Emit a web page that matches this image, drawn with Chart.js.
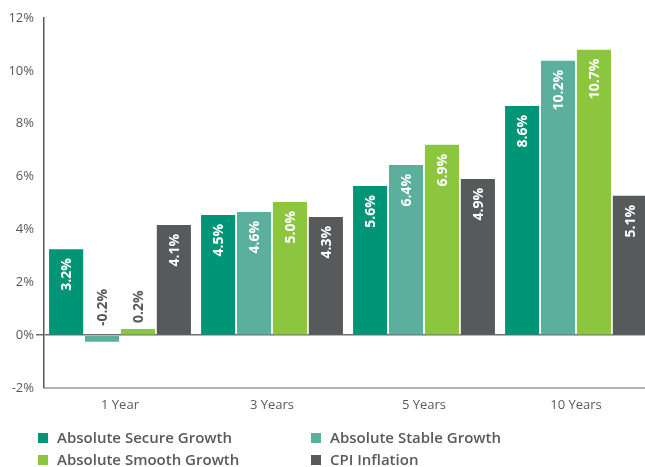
<!DOCTYPE html>
<html>
<head>
<meta charset="utf-8">
<script src="https://cdn.jsdelivr.net/npm/chart.js@4/dist/chart.umd.min.js"></script>
<style>
html,body{margin:0;padding:0;background:#fff;overflow:hidden;}
#wrap{position:relative;width:645px;height:467px;overflow:hidden;}
#c{position:absolute;left:0;top:0;}
.lg{position:absolute;font-family:"Open Sans",sans-serif;font-weight:600;font-size:15px;color:#58595b;line-height:18px;white-space:nowrap;}
.lg i{display:inline-block;width:10px;height:10px;margin-right:9px;vertical-align:0px;}
</style>
</head>
<body>
<div id="wrap">
<canvas id="c" width="652" height="467"></canvas>
<div id="legend"></div>
</div>
<script>
const categories = ['1 Year', '3 Years', '5 Years', '10 Years'];
const seriesNames = ['Absolute Secure Growth', 'Absolute Stable Growth', 'Absolute Smooth Growth', 'CPI Inflation'];
const secureValues = [3.25, 4.55, 5.64, 8.67];
const stableValues = [-0.25, 4.66, 6.44, 10.38];
const smoothValues = [0.23, 5.04, 7.2, 10.8];
const cpiValues = [4.17, 4.47, 5.91, 5.27];
const secureLabels = ['3.2%', '4.5%', '5.6%', '8.6%'];
const stableLabels = ['-0.2%', '4.6%', '6.4%', '10.2%'];
const smoothLabels = ['0.2%', '5.0%', '6.9%', '10.7%'];
const cpiLabels = ['4.1%', '4.3%', '4.9%', '5.1%'];
const yTicks = [-2, 0, 2, 4, 6, 8, 10, 12];

const colors = ['#009577', '#5bb09d', '#8cc63f', '#58595b'];
const values = [secureValues, stableValues, smoothValues, cpiValues];
const labels = [secureLabels, stableLabels, smoothLabels, cpiLabels];

const labelPlugin = {
  id: 'barLabels',
  afterDatasetsDraw(chart) {
    const ctx = chart.ctx;
    chart.data.datasets.forEach((ds, di) => {
      const meta = chart.getDatasetMeta(di);
      meta.data.forEach((el, i) => {
        const v = ds.data[i];
        const txt = labels[di][i];
        ctx.save();
        ctx.font = 'bold 14px "Open Sans", sans-serif';
        ctx.textBaseline = 'middle';
        let y;
        if (Math.abs(v) >= 1) {
          ctx.fillStyle = '#ffffff';
          ctx.textAlign = 'right';
          y = el.y + 9;
        } else {
          ctx.fillStyle = '#58595b';
          ctx.textAlign = 'left';
          y = Math.min(el.y, el.base) - (v < 0 ? 10 : 6);
        }
        ctx.translate(el.x, y);
        ctx.rotate(-Math.PI / 2);
        ctx.fillText(txt, 0, 1);
        ctx.restore();
      });
    });
  }
};

new Chart(document.getElementById('c'), {
  type: 'bar',
  data: {
    labels: categories,
    datasets: seriesNames.map((n, i) => ({
      label: n,
      data: values[i],
      backgroundColor: colors[i],
      borderWidth: 0,
      categoryPercentage: 0.945,
      barPercentage: 0.95
    }))
  },
  options: {
    responsive: false,
    animation: false,
    layout: { padding: { top: 18, right: 0, bottom: 49, left: 0 } },
    plugins: { legend: { display: false }, tooltip: { enabled: false } },
    scales: {
      x: {
        grid: { display: false, drawTicks: false },
        border: { color: '#b3b3b3', width: 2 },
        ticks: { color: '#58595b', font: { family: '"Open Sans", sans-serif', size: 13 }, padding: 9 },
        afterFit(s) { s.height = 30; }
      },
      y: {
        min: -2, max: 12,
        afterBuildTicks(s) { s.ticks = yTicks.map(v => ({ value: v })); },
        grid: {
          color: c => (c.tick && c.tick.value === 0) ? '#6d6e70' : 'rgba(0,0,0,0)',
          lineWidth: c => (c.tick && c.tick.value === 0) ? 1.5 : 0,
          tickColor: c => (c.tick && c.tick.value === 0) ? '#6d6e70' : (c.tick && c.tick.value === -2 ? '#b3b3b3' : 'rgba(0,0,0,0)'),
          tickLength: 8
        },
        border: { color: '#58595b', width: 1.5 },
        ticks: {
          color: '#58595b', padding: 2,
          font: { family: '"Open Sans", sans-serif', size: 13 },
          callback: v => v + '%'
        },
        afterFit(s) { s.width = 44; }
      }
    }
  },
  plugins: [labelPlugin]
});

const legendPos = [[38, 428], [311, 428], [38, 450], [311, 450]];
const lg = document.getElementById('legend');
seriesNames.forEach((n, i) => {
  const d = document.createElement('div');
  d.className = 'lg';
  d.style.left = legendPos[i][0] + 'px';
  d.style.top = legendPos[i][1] + 'px';
  d.innerHTML = '<i style="background:' + colors[i] + '"></i>' + n;
  lg.appendChild(d);
});
</script>
</body>
</html>
